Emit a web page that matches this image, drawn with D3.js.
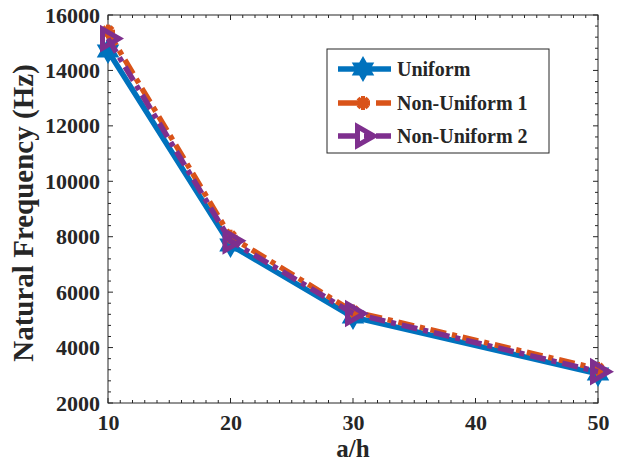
<!DOCTYPE html>
<html>
<head>
<meta charset="utf-8">
<script src="https://cdn.jsdelivr.net/npm/d3@7"></script>
<style>
  html, body { margin: 0; padding: 0; background: #fff; }
  svg { display: block; }
  text { font-family: "Liberation Serif", "Times New Roman", serif; font-weight: bold; fill: #262626; }
</style>
</head>
<body>
<svg id="chart" width="617" height="463"></svg>
<script>
// Natural frequency vs. aspect ratio a/h for three thickness profiles
const aspectRatios = [10, 20, 30, 50];
const uniformFreq = [14700, 7700, 5100, 3050];
const nonUniform1Freq = [15400, 8000, 5300, 3230];
const nonUniform2Freq = [15150, 7850, 5230, 3130];

const xTickValues = [10, 20, 30, 40, 50];
const yTickValues = [2000, 4000, 6000, 8000, 10000, 12000, 14000, 16000];

const seriesNames = ["Uniform", "Non-Uniform 1", "Non-Uniform 2"];
const seriesColors = ["#0072BD", "#D95319", "#7E2F8E"];

const series = [
  { name: seriesNames[0], values: uniformFreq, color: seriesColors[0], dash: null, marker: "hexagram" },
  { name: seriesNames[1], values: nonUniform1Freq, color: seriesColors[1], dash: "16,6,5,6", marker: "asterisk" },
  { name: seriesNames[2], values: nonUniform2Freq, color: seriesColors[2], dash: "16,6,5,6", marker: "triangle" }
];

const svg = d3.select("#chart");
const plot = { left: 108, right: 598, top: 15, bottom: 403 };

const x = d3.scaleLinear().domain([10, 50]).range([plot.left, plot.right]);
const y = d3.scaleLinear().domain([2000, 16000]).range([plot.bottom, plot.top]);

const axisColor = "#262626";

// minor ticks on all four sides, pointing inward
const xMinor = d3.range(10, 50.001, 1);
const yMinor = d3.range(2000, 16000.001, 400);
const tickG = svg.append("g").attr("stroke", axisColor).attr("stroke-width", 1);
xMinor.forEach(v => {
  const len = xTickValues.includes(v) ? 5 : 3;
  tickG.append("line").attr("x1", x(v)).attr("x2", x(v)).attr("y1", plot.bottom).attr("y2", plot.bottom - len);
  tickG.append("line").attr("x1", x(v)).attr("x2", x(v)).attr("y1", plot.top).attr("y2", plot.top + len);
});
yMinor.forEach(v => {
  const len = yTickValues.includes(v) ? 5 : 3;
  tickG.append("line").attr("x1", plot.left).attr("x2", plot.left + len).attr("y1", y(v)).attr("y2", y(v));
  tickG.append("line").attr("x1", plot.right).attr("x2", plot.right - len).attr("y1", y(v)).attr("y2", y(v));
});

// box
svg.append("rect")
  .attr("x", plot.left).attr("y", plot.top)
  .attr("width", plot.right - plot.left).attr("height", plot.bottom - plot.top)
  .attr("fill", "none").attr("stroke", axisColor).attr("stroke-width", 1);

// tick labels through d3 axes (lines hidden, labels kept)
const xAxis = svg.append("g")
  .attr("transform", `translate(0,${plot.bottom})`)
  .call(d3.axisBottom(x).tickValues(xTickValues).tickSize(0).tickPadding(11).tickFormat(d3.format("d")));
xAxis.select(".domain").remove();
xAxis.selectAll("text").attr("font-size", 22).attr("font-family", "Liberation Serif").attr("font-weight", "bold").attr("fill", axisColor);

const yAxis = svg.append("g")
  .attr("transform", `translate(${plot.left},0)`)
  .call(d3.axisLeft(y).tickValues(yTickValues).tickSize(0).tickPadding(8).tickFormat(d3.format("d")));
yAxis.select(".domain").remove();
yAxis.selectAll("text").attr("font-size", 22).attr("font-family", "Liberation Serif").attr("font-weight", "bold").attr("fill", axisColor);

// axis titles
svg.append("text")
  .attr("x", (plot.left + plot.right) / 2).attr("y", 457)
  .attr("text-anchor", "middle").attr("font-size", 25)
  .text("a/h");
svg.append("text")
  .attr("transform", `translate(33,${(plot.top + plot.bottom) / 2 + 4}) rotate(-90)`)
  .attr("text-anchor", "middle").attr("font-size", 29)
  .text("Natural Frequency (Hz)");

// marker shapes
function hexagramPath(R) {
  const r = R / Math.sqrt(3);
  const pts = [];
  for (let i = 0; i < 12; i++) {
    const a = -Math.PI / 2 + i * Math.PI / 6;
    const rad = i % 2 === 0 ? R : r;
    pts.push([rad * Math.cos(a), rad * Math.sin(a)]);
  }
  return "M" + pts.map(p => p.join(",")).join("L") + "Z";
}
function trianglePath(R) {
  const pts = [0, 1, 2].map(i => {
    const a = i * 2 * Math.PI / 3;
    return [R * Math.cos(a), R * Math.sin(a)];
  });
  return "M" + pts.map(p => p.join(",")).join("L") + "Z";
}
function drawMarker(g, type, cx, cy, color) {
  if (type === "hexagram") {
    g.append("path").attr("d", hexagramPath(11)).attr("transform", `translate(${cx},${cy})`)
      .attr("fill", color).attr("stroke", color).attr("stroke-width", 2).attr("stroke-linejoin", "miter");
  } else if (type === "asterisk") {
    const r = 7;
    const ag = g.append("g").attr("transform", `translate(${cx},${cy})`)
      .attr("stroke", color).attr("stroke-width", 4).attr("stroke-linecap", "butt");
    [0, 45, 90, 135].forEach(a => {
      const dx = r * Math.cos(a * Math.PI / 180), dy = r * Math.sin(a * Math.PI / 180);
      ag.append("line").attr("x1", -dx).attr("y1", -dy).attr("x2", dx).attr("y2", dy);
    });
  } else if (type === "triangle") {
    g.append("path").attr("d", trianglePath(11)).attr("transform", `translate(${cx},${cy})`)
      .attr("fill", "none").attr("stroke", color).attr("stroke-width", 5).attr("stroke-linejoin", "miter");
  }
}

const line = d3.line().x((d, i) => x(aspectRatios[i])).y(d => y(d));

series.forEach(s => {
  const g = svg.append("g");
  g.append("path").datum(s.values)
    .attr("d", line)
    .attr("fill", "none").attr("stroke", s.color).attr("stroke-width", 5.5)
    .attr("stroke-dasharray", s.dash).attr("stroke-linejoin", "round");
  s.values.forEach((v, i) => drawMarker(g, s.marker, x(aspectRatios[i]), y(v), s.color));
});

// legend
const legend = svg.append("g");
legend.append("rect")
  .attr("x", 327).attr("y", 49).attr("width", 222).attr("height", 104)
  .attr("fill", "#fff").attr("stroke", axisColor).attr("stroke-width", 1);
const rowY = [69, 103, 136];
series.forEach((s, i) => {
  const ly = rowY[i];
  legend.append("line")
    .attr("x1", 338).attr("x2", 391).attr("y1", ly).attr("y2", ly)
    .attr("stroke", s.color).attr("stroke-width", 5.5)
    .attr("stroke-dasharray", s.dash ? "20,6,6,6" : null);
  drawMarker(legend, s.marker, 363, ly, s.color);
  legend.append("text")
    .attr("x", 397).attr("y", ly + 7)
    .attr("font-size", 20).attr("fill", "#000")
    .text(s.name);
});
</script>
</body>
</html>
